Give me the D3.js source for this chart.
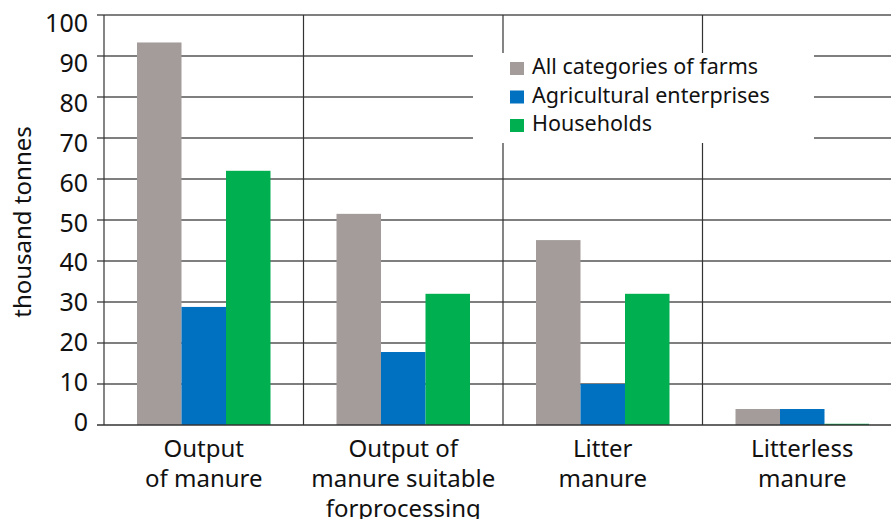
<!DOCTYPE html>
<html>
<head>
<meta charset="utf-8">
<script src="https://cdn.jsdelivr.net/npm/d3@7"></script>
<style>
body{margin:0;background:#fff;}
svg{display:block;}
text{font-family:"Noto Sans","Open Sans",sans-serif;fill:#111;}
</style>
</head>
<body>
<svg id="chart" width="891" height="519"></svg>
<script>
const categories = [
  ["Output", "of manure"],
  ["Output of", "manure suitable", "forprocessing"],
  ["Litter", "manure"],
  ["Litterless", "manure"]
];
const seriesNames = ["All categories of farms", "Agricultural enterprises", "Households"];
const allFarms = [93.3, 51.5, 45.1, 3.9];
const enterprises = [28.8, 17.8, 10.0, 3.9];
const households = [62.0, 32.0, 32.0, 0.3];
const colors = ["#a39c9b", "#0070c0", "#00b050"];
const yTicks = [0, 10, 20, 30, 40, 50, 60, 70, 80, 90, 100];

const series = [allFarms, enterprises, households];
const svg = d3.select("#chart");
const pLeft = 104, pRight = 902, pTop = 15, pBottom = 425;

const x0 = d3.scaleBand().domain(d3.range(categories.length)).range([pLeft, pRight]).paddingInner(0).paddingOuter(0);
const x1 = d3.scaleBand().domain(d3.range(series.length)).range([33, x0.bandwidth() - 33]).padding(0);
const y = d3.scaleLinear().domain([0, 100]).range([pBottom, pTop]);
// tick label centres (labels in the reference are spaced slightly tighter than gridlines)
const yLab = d3.scaleLinear().domain([0, 100]).range([422, 23]);

// horizontal gridlines
svg.append("g").selectAll("line").data(yTicks.filter(d => d > 0)).join("line")
  .attr("x1", pLeft - 7).attr("x2", pRight)
  .attr("y1", d => y(d)).attr("y2", d => y(d))
  .attr("stroke", "#555").attr("stroke-width", 1.3);

// vertical category separators
svg.append("g").selectAll("line").data(d3.range(categories.length + 1)).join("line")
  .attr("x1", d => d < categories.length ? x0(d) : pRight)
  .attr("x2", d => d < categories.length ? x0(d) : pRight)
  .attr("y1", pTop).attr("y2", pBottom)
  .attr("stroke", "#333").attr("stroke-width", 1.2);

// bars
const groups = svg.append("g").selectAll("g").data(d3.range(categories.length)).join("g")
  .attr("transform", i => `translate(${x0(i)},0)`);
groups.selectAll("rect").data(i => series.map((s, k) => ({k, v: s[i]}))).join("rect")
  .attr("x", d => x1(d.k)).attr("width", x1.bandwidth())
  .attr("y", d => y(d.v)).attr("height", d => pBottom - y(d.v))
  .attr("fill", d => colors[d.k]);

// baseline
svg.append("line").attr("x1", pLeft - 7).attr("x2", pRight).attr("y1", pBottom).attr("y2", pBottom)
  .attr("stroke", "#333").attr("stroke-width", 1.4);

// y tick labels
svg.append("g").selectAll("text").data(yTicks).join("text")
  .attr("x", 88).attr("y", d => yLab(d)).attr("dy", "0.36em")
  .attr("text-anchor", "end").attr("font-size", 25).text(d => d);

// y axis title
svg.append("text").attr("transform", "translate(31,222) rotate(-90)")
  .attr("text-anchor", "middle").attr("font-size", 24).text("thousand tonnes");

// category labels
svg.append("g").selectAll("text").data(categories).join("text")
  .attr("text-anchor", "middle").attr("font-size", 24)
  .attr("x", (d, i) => x0(i) + x0.bandwidth() / 2)
  .selectAll("tspan").data(d => d).join("tspan")
  .attr("x", function(){ return this.parentNode.getAttribute("x"); })
  .attr("y", (d, j) => 457 + j * 30)
  .text(d => d);

// legend
const lg = svg.append("g");
lg.append("rect").attr("x", 473).attr("y", 53).attr("width", 341).attr("height", 90).attr("fill", "#fff");
const items = lg.selectAll("g").data(seriesNames).join("g")
  .attr("transform", (d, i) => `translate(510,${74 + i * 28.5})`);
items.append("rect").attr("x", 0).attr("y", -12).attr("width", 14).attr("height", 13)
  .attr("fill", (d, i) => colors[i]);
items.append("text").attr("x", 22).attr("y", 0)
  .attr("font-size", 21.5).text(d => d);
</script>
</body>
</html>
